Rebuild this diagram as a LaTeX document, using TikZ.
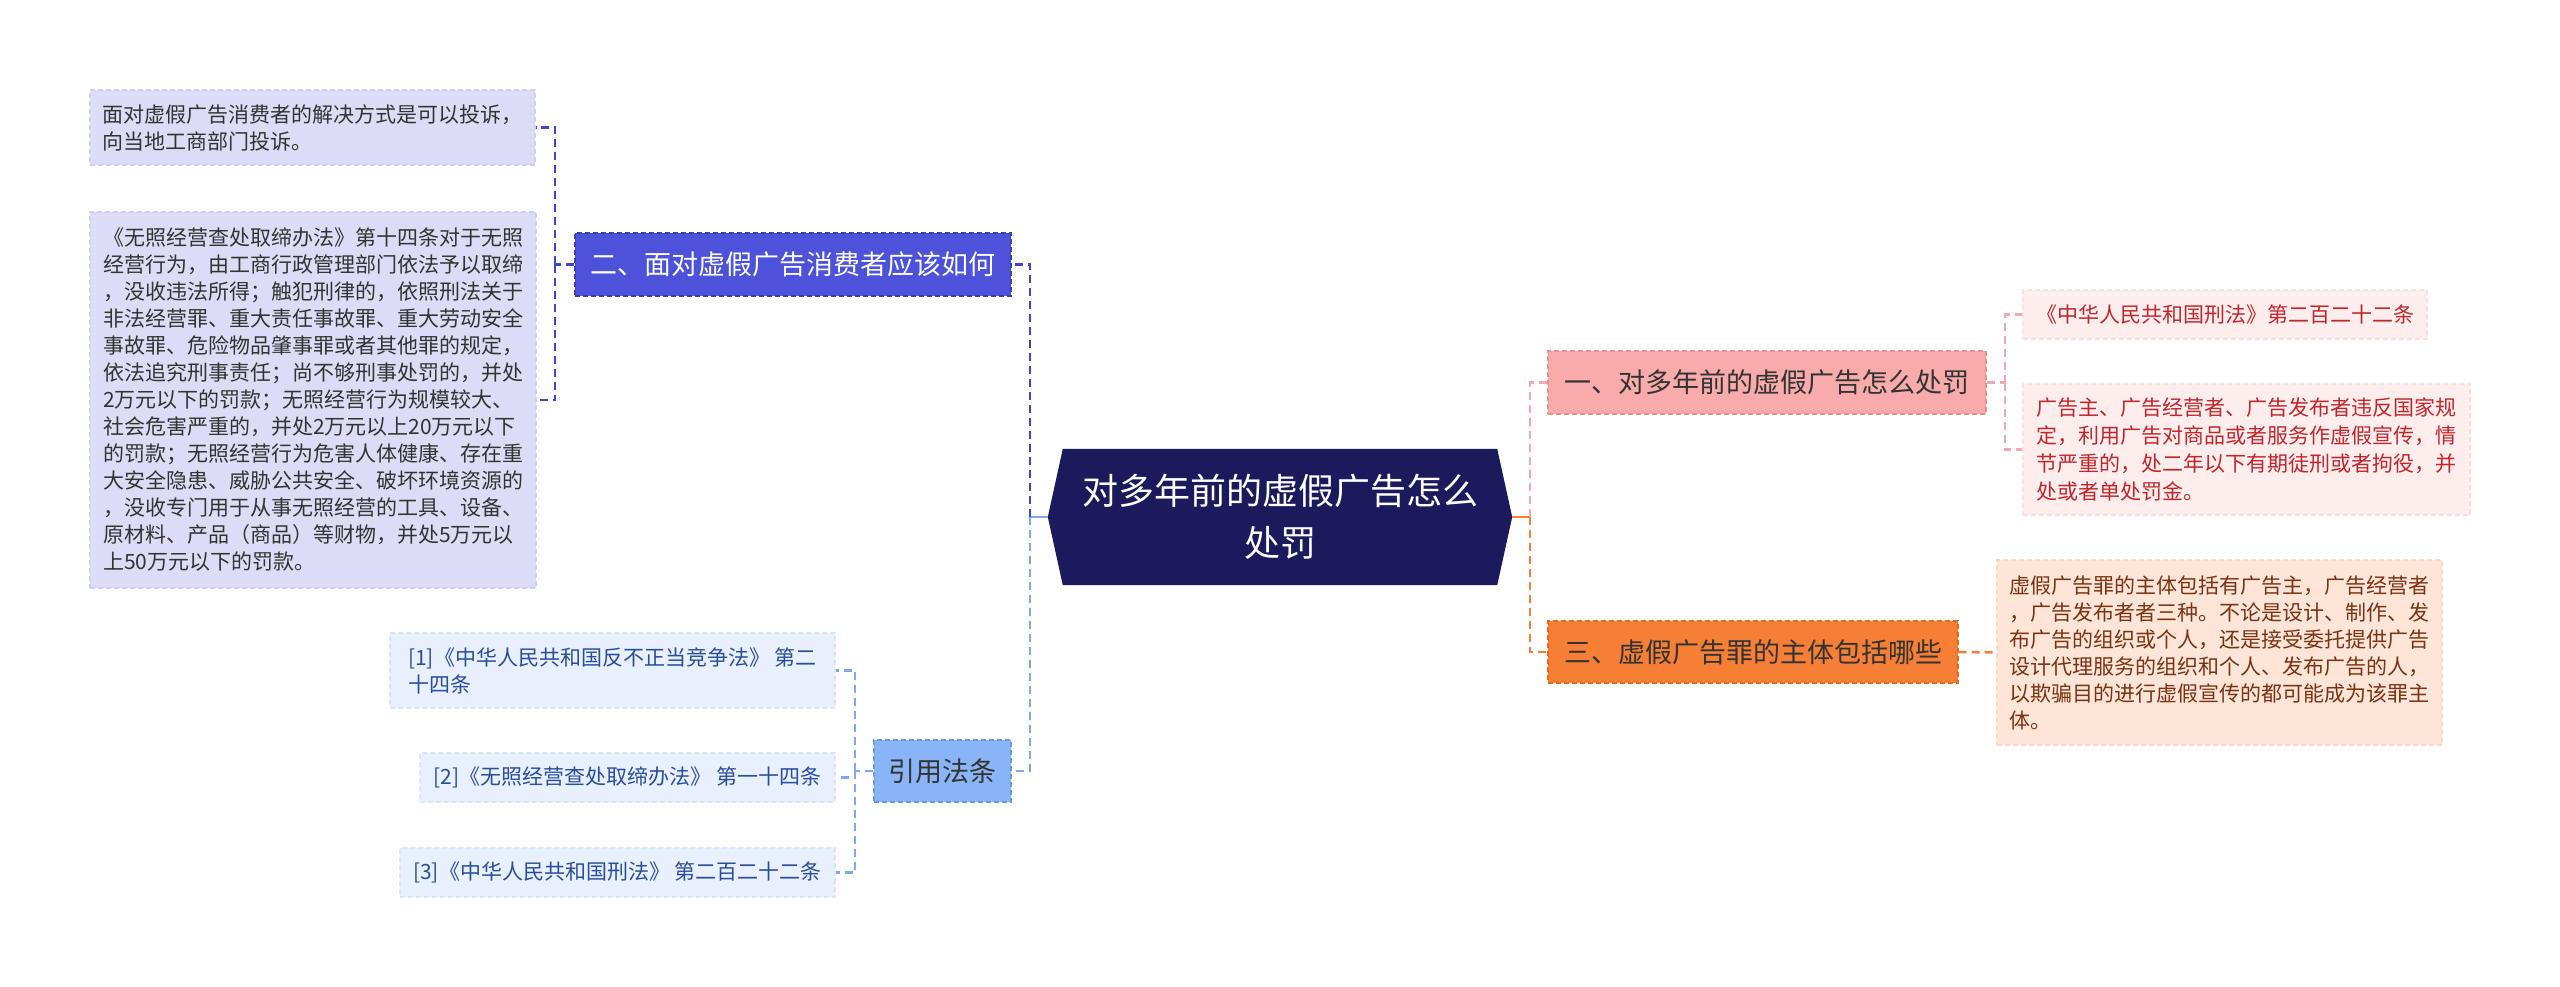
\documentclass[tikz,border=0pt]{standalone}
\usepackage{fontspec}
\setmainfont{Noto Sans CJK SC}
\usetikzlibrary{calc,backgrounds}
\definecolor{navy}{HTML}{1B1A5C}
\definecolor{ntwofill}{HTML}{4C52D9}
\definecolor{ntwoline}{HTML}{3A3FB8}
\definecolor{lavfill}{HTML}{DCDCF6}
\definecolor{lavline}{HTML}{CFD0EF}
\definecolor{reffill}{HTML}{8AB4F8}
\definecolor{refline}{HTML}{6E99E0}
\definecolor{bfill}{HTML}{E8F0FD}
\definecolor{bline}{HTML}{DCE6F9}
\definecolor{btext}{HTML}{2A4D9C}
\definecolor{nonefill}{HTML}{F9ABAB}
\definecolor{noneline}{HTML}{E89090}
\definecolor{rfill}{HTML}{FDEDED}
\definecolor{rline}{HTML}{F8E0E0}
\definecolor{rtext}{HTML}{C0272D}
\definecolor{nthreefill}{HTML}{F77F35}
\definecolor{nthreeline}{HTML}{E06A20}
\definecolor{pfill}{HTML}{FDE5D8}
\definecolor{pline}{HTML}{F7D9C8}
\definecolor{ptext}{HTML}{7B3413}
\definecolor{darktext}{HTML}{333333}
\definecolor{cblue}{HTML}{4146CC}
\definecolor{clight}{HTML}{7FA8EE}
\definecolor{cpink}{HTML}{F2A8B0}
\definecolor{corange}{HTML}{F0803C}
\tikzset{
  box/.style={rectangle, draw, dashed, dash pattern=on 5pt off 3pt, line width=1.2pt, inner sep=0pt, align=left},
  leafbox/.style={box, font=\fontsize{21pt}{27pt}\selectfont},
  branchbox/.style={box, align=center, font=\fontsize{27pt}{32pt}\selectfont},
  conn/.style={line width=2.5pt, dash pattern=on 8pt off 5pt},
}
\begin{document}
\begin{tikzpicture}[x=1pt,y=-1pt]
\begin{scope}[on background layer]
\fill[white] (0,0) rectangle (2560,987);
\end{scope}
\useasboundingbox (0,0) rectangle (2560,987);

% central node
\node[minimum width=464pt, minimum height=136pt, align=center, text=white,
  font=\fontsize{36pt}{52pt}\selectfont] (c) at (1280,517) {对多年前的虚假广告怎么\\处罚};
\begin{scope}[on background layer]
\fill[navy] (c.west) -- ($(c.north west)+(15,0)$) -- ($(c.north east)+(-15,0)$) -- (c.east)
  -- ($(c.south east)+(-15,0)$) -- ($(c.south west)+(15,0)$) -- cycle;
\end{scope}

% left branch
\node[branchbox, fill=ntwofill, draw=ntwoline, text=white, minimum width=436pt, minimum height=63pt] (n2) at (793,264.5) {二、面对虚假广告消费者应该如何};
\node[leafbox, fill=lavfill, draw=lavline, text=darktext, minimum width=445pt, minimum height=75pt] (l1) at (312.5,127.5) {面对虚假广告消费者的解决方式是可以投诉，\\向当地工商部门投诉。};
\node[leafbox, fill=lavfill, draw=lavline, text=darktext, minimum width=446pt, minimum height=376pt] (l2) at (313,400) {《无照经营查处取缔办法》第十四条对于无照\\经营行为，由工商行政管理部门依法予以取缔\\，没收违法所得；触犯刑律的，依照刑法关于\\非法经营罪、重大责任事故罪、重大劳动安全\\事故罪、危险物品肇事罪或者其他罪的规定，\\依法追究刑事责任；尚不够刑事处罚的，并处\\2万元以下的罚款；无照经营行为规模较大、\\社会危害严重的，并处2万元以上20万元以下\\的罚款；无照经营行为危害人体健康、存在重\\大安全隐患、威胁公共安全、破坏环境资源的\\，没收专门用于从事无照经营的工具、设备、\\原材料、产品（商品）等财物，并处5万元以\\上50万元以下的罚款。};

\node[branchbox, fill=reffill, draw=refline, text=darktext, minimum width=137pt, minimum height=62pt] (ref) at (942.5,771) {引用法条};
\node[leafbox, fill=bfill, draw=bline, text=btext, minimum width=445pt, minimum height=75pt] (b1) at (612.5,670.5) {[1]《中华人民共和国反不正当竞争法》 第二\\十四条};
\node[leafbox, fill=bfill, draw=bline, text=btext, minimum width=415pt, minimum height=49pt] (b2) at (627.5,777.5) {[2]《无照经营查处取缔办法》 第一十四条};
\node[leafbox, fill=bfill, draw=bline, text=btext, minimum width=435pt, minimum height=49pt] (b3) at (617.5,872.5) {[3]《中华人民共和国刑法》 第二百二十二条};

% right branch
\node[branchbox, fill=nonefill, draw=noneline, text=darktext, minimum width=438pt, minimum height=63pt] (n1) at (1767,382.5) {一、对多年前的虚假广告怎么处罚};
\node[leafbox, fill=rfill, draw=rline, text=rtext, minimum width=404pt, minimum height=49pt] (r1) at (2225,314.5) {《中华人民共和国刑法》第二百二十二条};
\node[leafbox, fill=rfill, draw=rline, text=rtext, minimum width=447pt, minimum height=131pt,
  font=\fontsize{21pt}{28pt}\selectfont] (r2) at (2246.5,449.5) {广告主、广告经营者、广告发布者违反国家规\\定，利用广告对商品或者服务作虚假宣传，情\\节严重的，处二年以下有期徒刑或者拘役，并\\处或者单处罚金。};

\node[branchbox, fill=nthreefill, draw=nthreeline, text=darktext, minimum width=410pt, minimum height=62pt] (n3) at (1753,652) {三、虚假广告罪的主体包括哪些};
\node[leafbox, fill=pfill, draw=pline, text=ptext, minimum width=445pt, minimum height=185pt] (r3) at (2219.5,652.5) {虚假广告罪的主体包括有广告主，广告经营者\\，广告发布者者三种。不论是设计、制作、发\\布广告的组织或个人，还是接受委托提供广告\\设计代理服务的组织和个人、发布广告的人，\\以欺骗目的进行虚假宣传的都可能成为该罪主\\体。};

% junctions
\coordinate (jL) at (1030,517);
\coordinate (jR) at (1530,517);
\coordinate (j2) at (555,264.5);
\coordinate (jref) at (855,771);
\coordinate (j1) at (2005,382.5);

% connectors
\draw[line width=2.5pt, clight] (c.west) -- (jL);
\draw[conn, cblue] (jL) |- (n2.east);
\draw[conn, clight] (jL) |- (ref.east);
\draw[conn, cblue] (n2.west) -- (j2);
\draw[conn, cblue] (j2) |- (l1.east);
\draw[conn, cblue] (j2) |- (l2.east);
\draw[conn, clight] (ref.west) -- (jref);
\draw[conn, clight] (jref) |- (b1.east);
\draw[conn, clight] (jref) |- (b2.east);
\draw[conn, clight] (jref) |- (b3.east);

\draw[line width=2.5pt, corange] (c.east) -- (jR);
\draw[conn, cpink] (jR) |- (n1.west);
\draw[conn, corange] (jR) |- (n3.west);
\draw[conn, cpink] (n1.east) -- (j1);
\draw[conn, cpink] (j1) |- (r1.west);
\draw[conn, cpink] (j1) |- (r2.west);
\draw[conn, corange] (n3.east) -- (r3.west);
\end{tikzpicture}
\end{document}
